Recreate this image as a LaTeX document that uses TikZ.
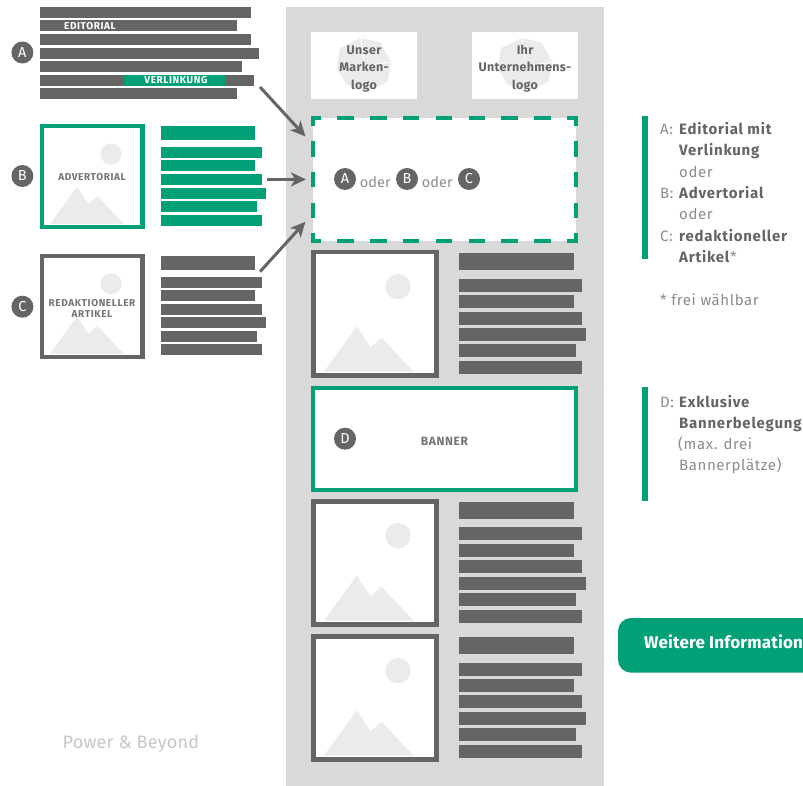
\documentclass[tikz,border=0pt]{standalone}
\usepackage{fontspec}
\setmainfont{Fira Sans}
\usetikzlibrary{arrows.meta}
\definecolor{dk}{HTML}{646564}
\definecolor{gr}{HTML}{02A077}
\definecolor{pn}{HTML}{D9D9D9}
\definecolor{lt}{HTML}{EBEBEB}
\definecolor{tx}{HTML}{8C8C8C}
\newcommand{\picicon}[4]{% x,y of frame corner, scale factor, colour
  \begin{scope}[shift={(#1,#2)},x=#3pt,y=-#3pt]
    \fill[white] (0,0) rectangle (105,105);
    \fill[lt] (71.5,30) circle (10.5);
    \fill[lt] (10.5,100) -- (37.5,62.7) -- (48.8,80) -- (57.8,72) -- (84.5,100) -- cycle;
    \pgfmathsetmacro\insa{2.1/#3}
    \pgfmathsetmacro\insb{105-\insa}
    \draw[#4,line width=4.2pt] (\insa,\insa) rectangle (\insb,\insb);
  \end{scope}}
\newcommand{\logoicon}[2]{%
  \begin{scope}[shift={(#1,#2)}]
    \fill[lt] (-3.3,-29) -- (16,-24.7) -- (27.7,-4.7) -- (23.3,15) -- (4.3,23.3) -- (-17.3,17.7) -- (-27.3,1) -- (-24,-19) -- cycle;
    \draw[white,line width=1pt] (-3.3,-29) -- (0,-8) (27.7,-4.7) -- (6,-2);
  \end{scope}}
\tikzset{
  badge/.style={circle,fill=dk,text=white,minimum size=22pt,inner sep=0pt,font=\fontsize{14.5}{15}\selectfont},
  lbl/.style={anchor=base west,inner sep=0pt,text=tx,font=\fontsize{15}{15}\selectfont\addfontfeatures{LetterSpace=4}},
  bld/.style={anchor=base west,inner sep=0pt,text=dk,font=\fontsize{15}{15}\selectfont\bfseries\addfontfeatures{LetterSpace=5}},
  logotxt/.style={anchor=base,inner sep=0pt,text=dk,font=\fontsize{12.5}{13}\selectfont\bfseries\addfontfeatures{LetterSpace=2.5}},
  captxt/.style={anchor=base,inner sep=0pt,text=dk!90!white,font=\fontsize{10}{10}\selectfont\bfseries\addfontfeatures{LetterSpace=6}},
  slotword/.style={anchor=base,inner sep=0pt,text=tx,font=\fontsize{14.5}{15}\selectfont},
  flow/.style={draw=dk,line width=3pt,-{Stealth[length=15pt,width=14pt,inset=4pt]}},
  dashh/.style={draw=gr,line width=3.6pt,dash pattern=on 16.4pt off 16.4pt,dash phase=6.4pt},
  dashv/.style={draw=gr,line width=3.6pt,dash pattern=on 15.3pt off 15.4pt,dash phase=5.3pt},
}
\begin{document}
\begin{tikzpicture}[x=1pt,y=-1pt]
\useasboundingbox (0,0) rectangle (803,786);
\clip (0,0) rectangle (803,786);
\fill[white] (0,0) rectangle (803,786);
% panel
\fill[pn] (286,7) rectangle (604,786);
% block A bars
\foreach \a/\b/\c in {7/18/251,20/31/237,34/45/251,48/59/259,61/72/242,75/86/254,88/99/237}
  {\fill[dk] (40,\a) rectangle (\c,\b);}
\fill[gr] (124,75) rectangle (225,86);
\node[captxt,text=white] (edit) at (90,30) {EDITORIAL};
\node[captxt,text=white] (verl) at (176,84) {VERLINKUNG};
% block B
\picicon{39.5}{124}{1}{gr}
\fill[gr] (161,126) rectangle (255,140);
\foreach \a/\b/\c in {147/158/262,160/171/255,174/185/262,188/199/266,201/212/257,215/226/262}
  {\fill[gr] (161,\a) rectangle (\c,\b);}
\node[captxt] (adv) at (92,181) {ADVERTORIAL};
% block C
\picicon{39.5}{253.8}{1}{dk}
\fill[dk] (161,256) rectangle (255,270);
\foreach \a/\b/\c in {277/288/262,290/301/255,304/315/262,317/328/266,331/342/257,344/355/262}
  {\fill[dk] (161,\a) rectangle (\c,\b);}
\node[captxt] (red1) at (92,306) {REDAKTIONELLER};
\node[captxt] (red2) at (92,317) {ARTIKEL};
% left badges
\node[badge] (bA) at (22.4,52.5) {A};
\node[badge] (bB) at (22.4,176) {B};
\node[badge] (bC) at (22.4,306.7) {C};
% logos
\fill[white] (311,32) rectangle (417,99);
\fill[white] (472,32) rectangle (578,99);
\logoicon{364}{67}
\logoicon{525}{67}
\node[logotxt] (l1) at (364,55) {Unser};
\node[logotxt] (l2) at (364,72) {Marken-};
\node[logotxt] (l3) at (364,90) {logo};
\node[logotxt] (r1) at (525,55) {Ihr};
\node[logotxt] (r2) at (525,72) {Unternehmens-};
\node[logotxt] (r3) at (525,90) {logo};
% dashed slot
\fill[white] (313,118) rectangle (576,241);
\draw[dashh] (311,117.8) -- (578,117.8);
\draw[dashh] (311,240.8) -- (578,240.8);
\draw[dashv] (312.8,116) -- (312.8,242.6);
\draw[dashv] (576.2,116) -- (576.2,242.6);
\node[badge] (sA) at (345,179) {A};
\node[badge] (sB) at (407,179) {B};
\node[badge] (sC) at (469,179) {C};
\node[slotword] (o1) at (375.3,188) {oder};
\node[slotword] (o2) at (437.3,188) {oder};
% arrows
\coordinate (aS) at (260,87);
\coordinate (aE) at (305.5,136.5);
\coordinate (bS) at (267,179.4);
\coordinate (bE) at (306,179.4);
\coordinate (cS) at (260,271.7);
\coordinate (cE) at (305.5,221.7);
\draw[flow] (aS) -- (aE);
\draw[flow] (bS) -- (bE);
\draw[flow] (cS) -- (cE);
% articles
\picicon{311.3}{250.3}{1.213}{dk}
\foreach \o in {0,249,384}{
  \fill[dk] (459,253+\o) rectangle (574,270+\o);
}
\foreach \a/\b/\c in {279/292/582,295/308/574,312/325/582,328/341/586,344/357/576,361/374/582,
  527/540/582,544/557/574,560/573/582,577/590/586,593/606/576,610/623/582,
  663/676/582,679/692/574,695/708/582,712/725/586,728/741/576,745/758/582}
  {\fill[dk] (459,\a) rectangle (\c,\b);}
\picicon{311.3}{499.3}{1.213}{dk}
\picicon{311.3}{634.3}{1.213}{dk}
% banner
\fill[white] (313,388) rectangle (576,489);
\draw[gr,line width=4pt] (313.3,387.7) rectangle (576,489.7);
\node[badge] (bD) at (345,438.7) {D};
\node[captxt,font=\fontsize{12}{12}\selectfont\bfseries\addfontfeatures{LetterSpace=5}] (ban) at (444.5,445) {BANNER};
% legend
\fill[gr] (642,116) rectangle (648,259.5);
\node[lbl] (la) at (660,135) {A:};
\node[bld] (la1) at (679,135) {Editorial mit};
\node[bld] (la2) at (679,156) {Verlinkung};
\node[lbl] (la3) at (679,177.5) {oder};
\node[lbl] (lb) at (660,199) {B:};
\node[bld] (lb1) at (679,199) {Advertorial};
\node[lbl] (lb2) at (679,220) {oder};
\node[lbl] (lc) at (660,241.5) {C:};
\node[bld] (lc1) at (679,241.5) {redaktioneller};
\node (lc2) [bld] at (679,263) {Artikel\textmd{\color{tx}*}};
\node[lbl] (fn) at (660,305.5) {* frei wählbar};
\fill[gr] (642,387) rectangle (647.8,500.7);
\node[lbl] (ld) at (660,407) {D:};
\node[bld] (ld1) at (679,407) {Exklusive};
\node[bld] (ld2) at (679,428) {Bannerbelegung};
\node[lbl] (ld3) at (678,449) {(max. drei};
\node[lbl] (ld4) at (679,470.5) {Bannerplätze)};
% button
\fill[gr,rounded corners=13pt] (618,618) rectangle (830,672.7);
\node[bld,text=white,font=\fontsize{17}{17}\selectfont\bfseries\addfontfeatures{LetterSpace=1}] (btn) at (644,648) {Weitere Information};
% source
\node[lbl,text=black!22,font=\fontsize{18}{18}\selectfont\addfontfeatures{LetterSpace=1.2}] (src) at (62.5,748) {Power \& Beyond};
\end{tikzpicture}
\end{document}
